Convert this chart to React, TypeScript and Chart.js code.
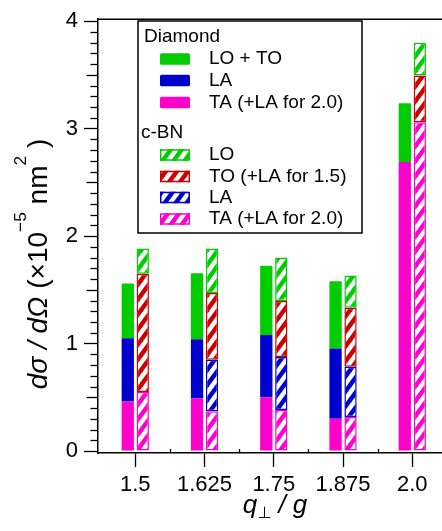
import React, { useEffect, useRef } from 'react';
import { Chart, registerables } from 'chart.js';
Chart.register(...registerables);

// ---- data ----
const categories = [1.5, 1.625, 1.75, 1.875, 2.0];
const tickLabels = ['1.5', '1.625', '1.75', '1.875', '2.0'];
const yTicks = [0, 1, 2, 3, 4];

// Diamond (solid), stacked bottom to top
const diamondTA = [0.46, 0.49, 0.5, 0.3, 2.69];
const diamondLA = [0.59, 0.55, 0.58, 0.655, null];
const diamondLOTO = [0.51, 0.615, 0.645, 0.625, 0.545];

// c-BN (hatched), stacked bottom to top
const cbnTA = [0.55, 0.37, 0.383, 0.316, 3.06];
const cbnLA = [null, 0.48, 0.493, 0.468, null];
const cbnTO = [1.1, 0.62, 0.52, 0.549, 0.435];
const cbnLO = [0.235, 0.415, 0.405, 0.3, 0.305];

const diamondLabels = ['LO + TO', 'LA', 'TA (+LA for 2.0)'];
const cbnLabels = ['LO', 'TO (+LA for 1.5)', 'LA', 'TA (+LA for 2.0)'];

const GREEN = '#00cc00';
const BLUE = '#0000cc';
const PINK = '#ff00cc';
const RED = '#cc0000';

const FONT = '"Liberation Sans", "DejaVu Sans", Arial, sans-serif';

function makeHatch(color: string): CanvasPattern {
  const w = 11, h = 15;
  const c = document.createElement('canvas');
  c.width = w; c.height = h;
  const g = c.getContext('2d')!;
  g.fillStyle = color;
  g.fillRect(0, 0, w, h);
  g.strokeStyle = '#ffffff';
  g.lineWidth = 4.5;
  for (let n = 0; n <= 2; n++) {
    g.beginPath();
    g.moveTo(n * w + w, -h);
    g.lineTo(n * w - 2 * w, 2 * h);
    g.stroke();
  }
  return g.createPattern(c, 'repeat')!;
}

function pts(arr: (number | null)[]) {
  return categories.map((x, i) => ({ x, y: arr[i] }));
}

type Piece = { t: string; italic?: boolean; sup?: boolean; sub?: boolean };

function drawRich(ctx: CanvasRenderingContext2D, pieces: Piece[], F: number, x0: number, y0: number) {
  let x = x0;
  for (const p of pieces) {
    const size = p.sup || p.sub ? F * 0.62 : F;
    ctx.font = `${p.italic ? 'italic ' : ''}${size}px ${FONT}`;
    const dy = p.sup ? -F * 0.76 : p.sub ? F * 0.18 : 0;
    ctx.fillText(p.t, x, y0 + dy);
    x += ctx.measureText(p.t).width;
  }
  return x - x0;
}

function measureRich(ctx: CanvasRenderingContext2D, pieces: Piece[], F: number) {
  let w = 0;
  for (const p of pieces) {
    const size = p.sup || p.sub ? F * 0.62 : F;
    ctx.font = `${p.italic ? 'italic ' : ''}${size}px ${FONT}`;
    w += ctx.measureText(p.t).width;
  }
  return w;
}

export default function App() {
  const ref = useRef<HTMLCanvasElement>(null);

  useEffect(() => {
    const hatch = {
      green: makeHatch(GREEN),
      red: makeHatch(RED),
      blue: makeHatch(BLUE),
      pink: makeHatch(PINK),
    };

    const common = { categoryPercentage: 0.433, barPercentage: 0.82 };
    const solid = (label: string, data: (number | null)[], color: string) => ({
      label, data: pts(data), stack: 'diamond', backgroundColor: color, borderWidth: 0,
      borderRadius: 1, ...common,
    });
    const hatched = (label: string, data: (number | null)[], color: string, pat: CanvasPattern) => ({
      label, data: pts(data), stack: 'cbn', backgroundColor: pat, borderColor: color,
      borderWidth: 1.5, borderSkipped: false, ...common,
    });

    const extras = {
      id: 'extras',
      afterDraw(chart: any) {
        const ctx: CanvasRenderingContext2D = chart.ctx;
        const { left, right, top, bottom } = chart.chartArea;
        const ys = chart.scales.y;
        const xs = chart.scales.x;
        ctx.save();
        ctx.strokeStyle = '#000';
        // top frame line
        ctx.lineWidth = 1.5;
        ctx.beginPath();
        ctx.moveTo(left, top);
        ctx.lineTo(right, top);
        ctx.stroke();
        // y minor ticks
        ctx.lineWidth = 1.3;
        for (let i = 0; i <= 40; i++) {
          if (i % 10 === 0) continue;
          const v = i / 10;
          const len = i % 5 === 0 ? 11.5 : 7.5;
          const y = Math.round(ys.getPixelForValue(v)) + 0.5;
          ctx.beginPath();
          ctx.moveTo(left - len, y);
          ctx.lineTo(left, y);
          ctx.stroke();
        }
        // x minor ticks
        for (let i = 0; i < categories.length - 1; i++) {
          const v = (categories[i] + categories[i + 1]) / 2;
          const x = Math.round(xs.getPixelForValue(v)) + 0.5;
          ctx.beginPath();
          ctx.moveTo(x, bottom);
          ctx.lineTo(x, bottom - 4);
          ctx.stroke();
        }

        // legend
        ctx.fillStyle = '#fff';
        ctx.fillRect(138, 21, 224, 212);
        ctx.lineWidth = 1.5;
        ctx.strokeStyle = '#000';
        ctx.strokeRect(138, 21, 224, 212);
        ctx.fillStyle = '#000';
        ctx.textBaseline = 'middle';
        ctx.textAlign = 'left';
        ctx.font = `19px ${FONT}`;
        ctx.fillText('Diamond', 144, 37);
        ctx.fillText('c-BN', 141, 132.5);
        const solidColors = [GREEN, BLUE, PINK];
        const solidY = [59, 80.5, 102.5];
        solidColors.forEach((c, i) => {
          ctx.fillStyle = c;
          ctx.beginPath();
          (ctx as any).roundRect(160, solidY[i] - 5.75, 30, 11.5, 1.5);
          ctx.fill();
          ctx.fillStyle = '#000';
          ctx.fillText(diamondLabels[i], 209, solidY[i]);
        });
        const hColors = [GREEN, RED, BLUE, PINK];
        const hPats = [hatch.green, hatch.red, hatch.blue, hatch.pink];
        const hY = [155, 176.5, 197.5, 219];
        hColors.forEach((c, i) => {
          ctx.fillStyle = hPats[i];
          ctx.fillRect(160, hY[i] - 5.75, 30, 11.5);
          ctx.strokeStyle = c;
          ctx.lineWidth = 1.5;
          ctx.strokeRect(160.75, hY[i] - 5, 28.5, 10);
          ctx.fillStyle = '#000';
          ctx.fillText(cbnLabels[i], 209, hY[i]);
        });

        // axis titles
        ctx.textBaseline = 'alphabetic';
        ctx.fillStyle = '#000';
        const yTitle: Piece[] = [
          { t: 'd\u03c3', italic: true }, { t: ' / ', italic: true }, { t: 'd\u03a9', italic: true },
          { t: ' (\u00d710' }, { t: '\u22125', sup: true }, { t: ' nm' }, { t: '2', sup: true }, { t: ' )' },
        ];
        const FY = 28;
        const wy = measureRich(ctx, yTitle, FY);
        ctx.save();
        ctx.translate(47, 264 + wy / 2);
        ctx.rotate(-Math.PI / 2);
        drawRich(ctx, yTitle, FY, 0, 0);
        ctx.restore();

        const xTitle: Piece[] = [
          { t: 'q', italic: true }, { t: '\u22a5', sub: true }, { t: ' / ', italic: true }, { t: 'g', italic: true },
        ];
        const FX = 26;
        const wx = measureRich(ctx, xTitle, FX);
        drawRich(ctx, xTitle, FX, 275 - wx / 2, 513);
        ctx.restore();
      },
    };

    const chart = new Chart(ref.current!, {
      type: 'bar',
      data: {
        datasets: [
          solid('Diamond TA', diamondTA, PINK),
          solid('Diamond LA', diamondLA, BLUE),
          solid('Diamond LO + TO', diamondLOTO, GREEN),
          hatched('c-BN TA', cbnTA, PINK, hatch.pink),
          hatched('c-BN LA', cbnLA, BLUE, hatch.blue),
          hatched('c-BN TO', cbnTO, RED, hatch.red),
          hatched('c-BN LO', cbnLO, GREEN, hatch.green),
        ] as any,
      },
      options: {
        responsive: false,
        animation: false,
        devicePixelRatio: 1,
        layout: { padding: { top: 14, left: 0, right: 0, bottom: 0 } },
        plugins: { legend: { display: false }, tooltip: { enabled: false } },
        scales: {
          x: {
            type: 'linear',
            min: 1.4327,
            max: 2.0536,
            offset: false,
            grid: { offset: false, drawOnChartArea: false, drawTicks: true, tickLength: 14, tickColor: '#000', tickWidth: 1.3 },
            border: { display: true, color: '#000', width: 1.5 },
            ticks: {
              color: '#000',
              font: { family: FONT, size: 22 },
              padding: 5,
              maxRotation: 0,
              autoSkip: false,
              callback: (v: any) => {
                const i = categories.findIndex((c) => Math.abs(c - Number(v)) < 1e-6);
                return i >= 0 ? tickLabels[i] : '';
              },
            },
            afterBuildTicks: (s: any) => { s.ticks = categories.map((v) => ({ value: v })); },
            afterFit: (s: any) => { s.height = 78; },
          },
          y: {
            type: 'linear',
            stacked: true,
            min: -0.018,
            max: 4.018,
            grid: { drawOnChartArea: false, drawTicks: true, tickLength: 14, tickColor: '#000', tickWidth: 1.3 },
            border: { display: true, color: '#000', width: 1.5 },
            ticks: { color: '#000', font: { family: FONT, size: 22 }, padding: 6 },
            afterBuildTicks: (s: any) => { s.ticks = yTicks.map((v) => ({ value: v })); },
            afterFit: (s: any) => { s.width = 98; },
          },
        },
      } as any,
      plugins: [extras],
    });
    return () => chart.destroy();
  }, []);

  return (
    <div style={{ position: 'fixed', left: 0, top: 0, width: 442, height: 531, background: '#fff' }}>
      <canvas ref={ref} width={442} height={531} />
    </div>
  );
}
